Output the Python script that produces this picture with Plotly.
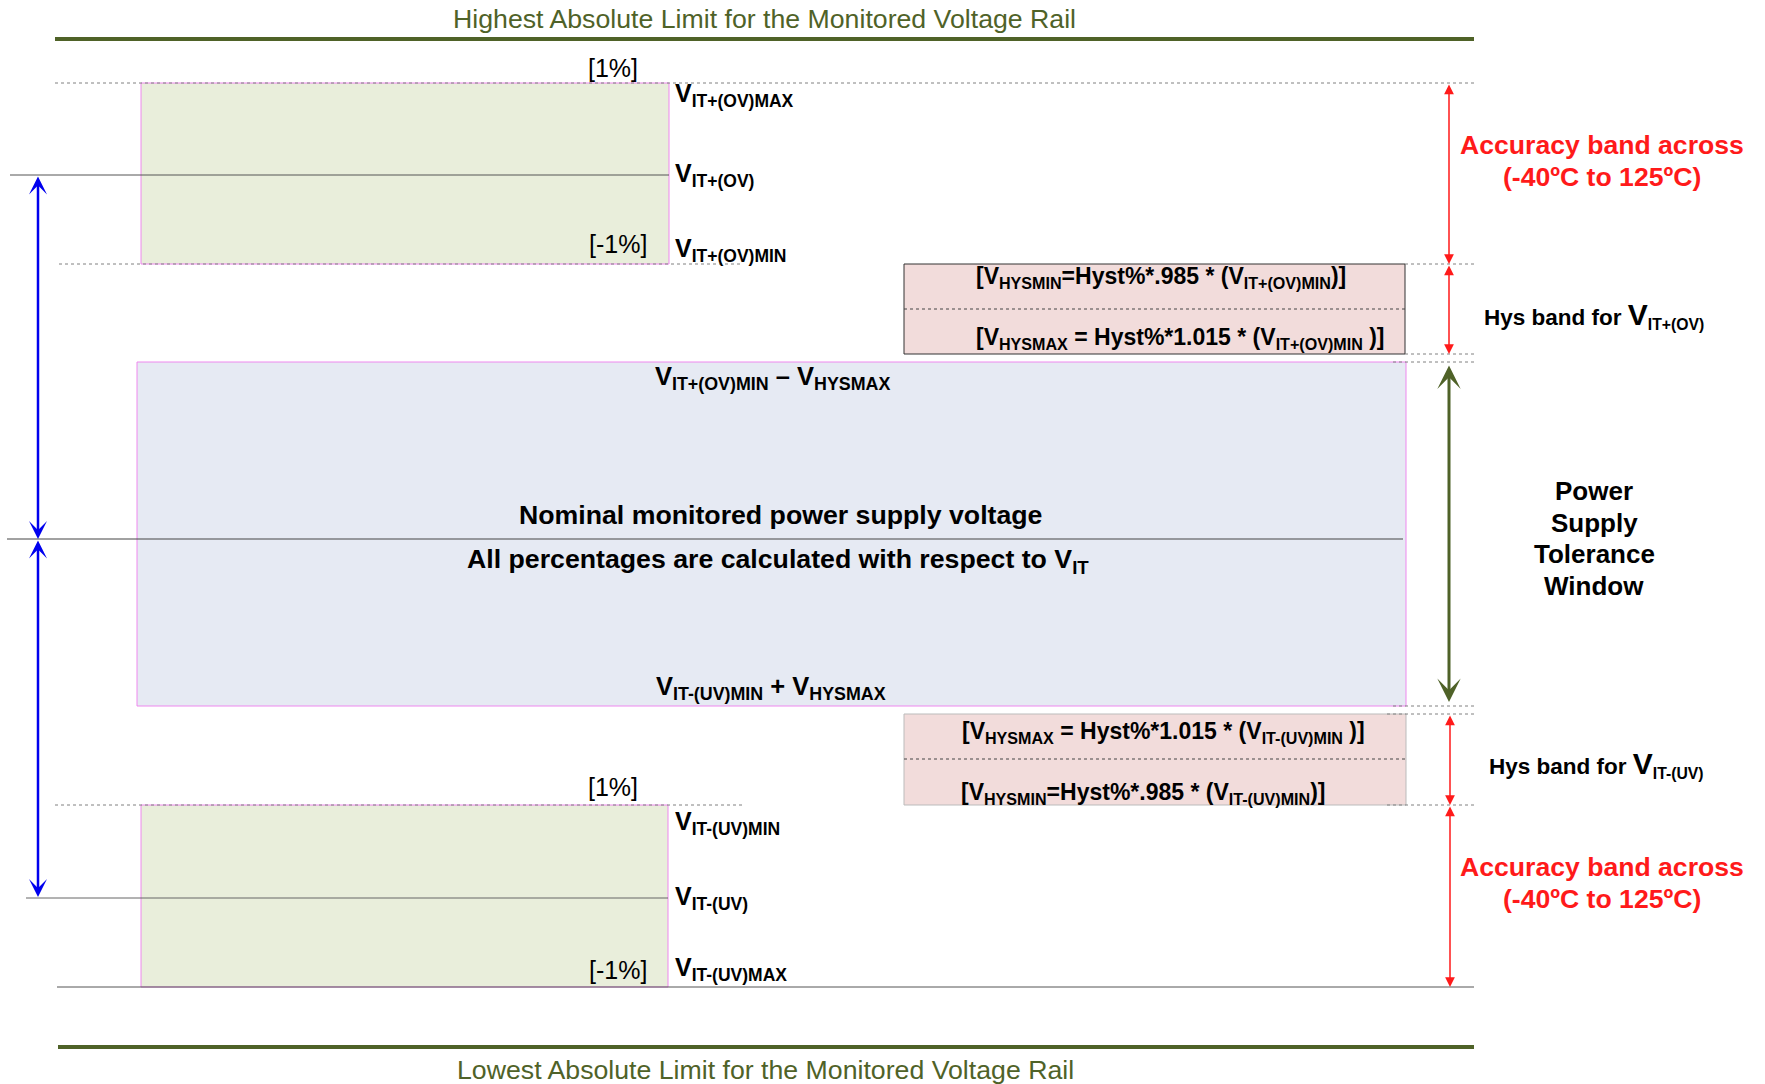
import plotly.graph_objects as go

# canvas in pixels, y grows downward
W, H = 1765, 1084
FONT = "Liberation Sans, Arial, sans-serif"
OLIVE = "#4F6228"
RED = "#FF1A1A"

# voltage levels of the diagram (vertical position on the canvas)
RAIL_LEVELS = [39, 1047]                 # highest / lowest absolute limit
OV_LEVELS = [83, 175, 264]               # VIT+(OV)MAX, VIT+(OV), VIT+(OV)MIN
UV_LEVELS = [805, 898, 987]              # VIT-(UV)MIN, VIT-(UV), VIT-(UV)MAX
HYS_OV_LEVELS = [264, 309, 354]          # hysteresis band above the window
HYS_UV_LEVELS = [714, 759, 805]          # hysteresis band below the window
WINDOW_LEVELS = [362, 539, 706]          # tolerance window top, nominal, bottom

OV_LABELS = ["V<sub>IT+(OV)MAX</sub>", "V<sub>IT+(OV)</sub>", "V<sub>IT+(OV)MIN</sub>"]
UV_LABELS = ["V<sub>IT-(UV)MIN</sub>", "V<sub>IT-(UV)</sub>", "V<sub>IT-(UV)MAX</sub>"]
OV_LABEL_Y = [95, 175, 250]
UV_LABEL_Y = [823, 898, 969]
PCT_LABELS = ["[1%]", "[-1%]"]
HYS_OV_TEXT = ["[V<sub>HYSMIN</sub>=Hyst%*.985 * (V<sub>IT+(OV)MIN</sub>)]",
               "[V<sub>HYSMAX</sub> = Hyst%*1.015 * (V<sub>IT+(OV)MIN</sub> )]"]
HYS_UV_TEXT = ["[V<sub>HYSMAX</sub> = Hyst%*1.015 * (V<sub>IT-(UV)MIN</sub> )]",
               "[V<sub>HYSMIN</sub>=Hyst%*.985 * (V<sub>IT-(UV)MIN</sub>)]"]
WINDOW_WORDS = ["Power", "Supply", "Tolerance", "Window"]
ACCURACY_LINES = ["Accuracy band across", "(-40ºC to 125ºC)"]

fig = go.Figure()


def hline(y, x0, x1, color="#808080", width=1, dash="dot"):
    fig.add_shape(type="line", x0=x0, x1=x1, y0=y, y1=y,
                  line=dict(color=color, width=width, dash=dash))


def box(y0, y1, x0, x1, fill, border, width=1):
    fig.add_shape(type="rect", x0=x0, x1=x1, y0=y0, y1=y1,
                  fillcolor=fill, line=dict(color=border, width=width), layer="below")


def arrow(x, y0, y1, color, width, head, size):
    fig.add_annotation(x=x, y=y1, ax=x, ay=y0, xref="x", yref="y", axref="x", ayref="y",
                       text="", showarrow=True, arrowhead=head, startarrowhead=head,
                       arrowside="end+start", arrowsize=size, startarrowsize=size,
                       arrowwidth=width, arrowcolor=color)


def label(x, y, text, size=24, bold=True, color="black", xanchor="center"):
    if bold:
        text = "<b>" + text + "</b>"
    fig.add_annotation(x=x, y=y, xref="x", yref="y", text=text, showarrow=False,
                       xanchor=xanchor, yanchor="middle",
                       font=dict(family=FONT, size=size, color=color))


# absolute limit rails
hline(RAIL_LEVELS[0], 55, 1474, color=OLIVE, width=4, dash="solid")
hline(RAIL_LEVELS[1], 58, 1474, color=OLIVE, width=4, dash="solid")
label(764, RAIL_LEVELS[0] - 20, "Highest Absolute Limit for the Monitored Voltage Rail",
      size=26.7, bold=False, color=OLIVE)
label(765, RAIL_LEVELS[1] + 23, "Lowest Absolute Limit for the Monitored Voltage Rail",
      size=26.7, bold=False, color=OLIVE)

# over-voltage accuracy band
box(OV_LEVELS[0], OV_LEVELS[2], 141, 669, "#E9EEDB", "#EE88EE")
hline(OV_LEVELS[0], 55, 1474)
hline(OV_LEVELS[1], 10, 669, color="#555555", dash="solid")
hline(OV_LEVELS[2], 59, 740)
hline(OV_LEVELS[2], 1405, 1474)

# under-voltage accuracy band
box(UV_LEVELS[0], UV_LEVELS[2], 141, 668, "#E9EEDB", "#EE88EE")
hline(UV_LEVELS[0], 55, 742)
hline(UV_LEVELS[0], 1387, 1474)
hline(UV_LEVELS[1], 26, 668, color="#666666", dash="solid")
hline(UV_LEVELS[2], 57, 1474, color="#555555", dash="solid")

for ly, txt in zip(OV_LABEL_Y, OV_LABELS):
    label(673, ly, txt, size=25, xanchor="left")
for ly, txt in zip(UV_LABEL_Y, UV_LABELS):
    label(673, ly, txt, size=25, xanchor="left")
label(613, OV_LEVELS[0] - 15, PCT_LABELS[0], size=25, bold=False)
label(618, OV_LEVELS[2] - 20, PCT_LABELS[1], size=25, bold=False)
label(613, UV_LEVELS[0] - 18, PCT_LABELS[0], size=25, bold=False)
label(618, UV_LEVELS[2] - 17, PCT_LABELS[1], size=25, bold=False)

# hysteresis bands
box(HYS_OV_LEVELS[0], HYS_OV_LEVELS[2], 904, 1405, "#F2DCDB", "#333333")
hline(HYS_OV_LEVELS[1], 904, 1405, color="#444444")
hline(HYS_OV_LEVELS[2], 1405, 1474)
label(1161, HYS_OV_LEVELS[0] + 13, HYS_OV_TEXT[0], size=23)
label(1180, HYS_OV_LEVELS[2] - 16, HYS_OV_TEXT[1], size=23)

box(HYS_UV_LEVELS[0], HYS_UV_LEVELS[2], 904, 1406, "#F2DCDB", "#BBBBBB")
hline(HYS_UV_LEVELS[1], 904, 1406, color="#444444")
hline(HYS_UV_LEVELS[0], 1387, 1474)
label(1163, HYS_UV_LEVELS[0] + 18, HYS_UV_TEXT[0], size=23)
label(1143, HYS_UV_LEVELS[2] - 12, HYS_UV_TEXT[1], size=23)

label(1594, 315, "Hys band for <span style='font-size:30px'>V</span><sub>IT+(OV)</sub>", size=22.5)
label(1596, 764, "Hys band for <span style='font-size:30px'>V</span><sub>IT-(UV)</sub>", size=22.5)

# power supply tolerance window
box(WINDOW_LEVELS[0], WINDOW_LEVELS[2], 137, 1406, "#E6EAF3", "#EE88EE")
hline(WINDOW_LEVELS[0], 1393, 1474)
hline(WINDOW_LEVELS[2], 1393, 1474)
hline(WINDOW_LEVELS[1], 7, 1403, color="#444444", dash="solid")
label(772, WINDOW_LEVELS[0] + 16, "V<sub>IT+(OV)MIN</sub> – V<sub>HYSMAX</sub>", size=25.5)
label(780, WINDOW_LEVELS[1] - 24, "Nominal monitored power supply voltage", size=26.7)
label(778, WINDOW_LEVELS[1] + 22, "All percentages are calculated with respect to V<sub>IT</sub>", size=26.7)
label(771, WINDOW_LEVELS[2] - 18, "V<sub>IT-(UV)MIN</sub> + V<sub>HYSMAX</sub>", size=25.5)
for i, word in enumerate(WINDOW_WORDS):
    label(1594, 491 + 31.5 * i, word, size=26)

# accuracy band notes
for top in (145, 867):
    label(1602, top, ACCURACY_LINES[0], size=26.6, color=RED)
    label(1602, top + 32, ACCURACY_LINES[1], size=26.6, color=RED)

# dimension arrows
arrow(38, OV_LEVELS[1], WINDOW_LEVELS[1], "#0000EE", 2.5, 3, 1.2)
arrow(38, WINDOW_LEVELS[1], UV_LEVELS[1] - 1, "#0000EE", 2.5, 3, 1.2)
arrow(1449, OV_LEVELS[0], OV_LEVELS[2], RED, 1.5, 2, 1.3)
arrow(1449, HYS_OV_LEVELS[0], HYS_OV_LEVELS[2], RED, 1.5, 2, 1.3)
arrow(1449, WINDOW_LEVELS[0] + 2, WINDOW_LEVELS[2] - 4, OLIVE, 3, 3, 1.3)
arrow(1450, HYS_UV_LEVELS[0], HYS_UV_LEVELS[2], RED, 1.5, 2, 1.3)
arrow(1450, UV_LEVELS[0], UV_LEVELS[2], RED, 1.5, 2, 1.3)

fig.update_layout(
    width=W, height=H,
    margin=dict(l=0, r=0, t=0, b=0),
    paper_bgcolor="white", plot_bgcolor="white",
    showlegend=False,
    dragmode=False,
)
fig.update_xaxes(range=[0, W], visible=False, fixedrange=True)
fig.update_yaxes(range=[H, 0], visible=False, fixedrange=True)

# drop the default page margin so the canvas sits at the window corner
fig.write_html("out.html", config={"displayModeBar": False},
               post_script="document.body.style.margin='0';document.body.style.overflow='hidden';")
